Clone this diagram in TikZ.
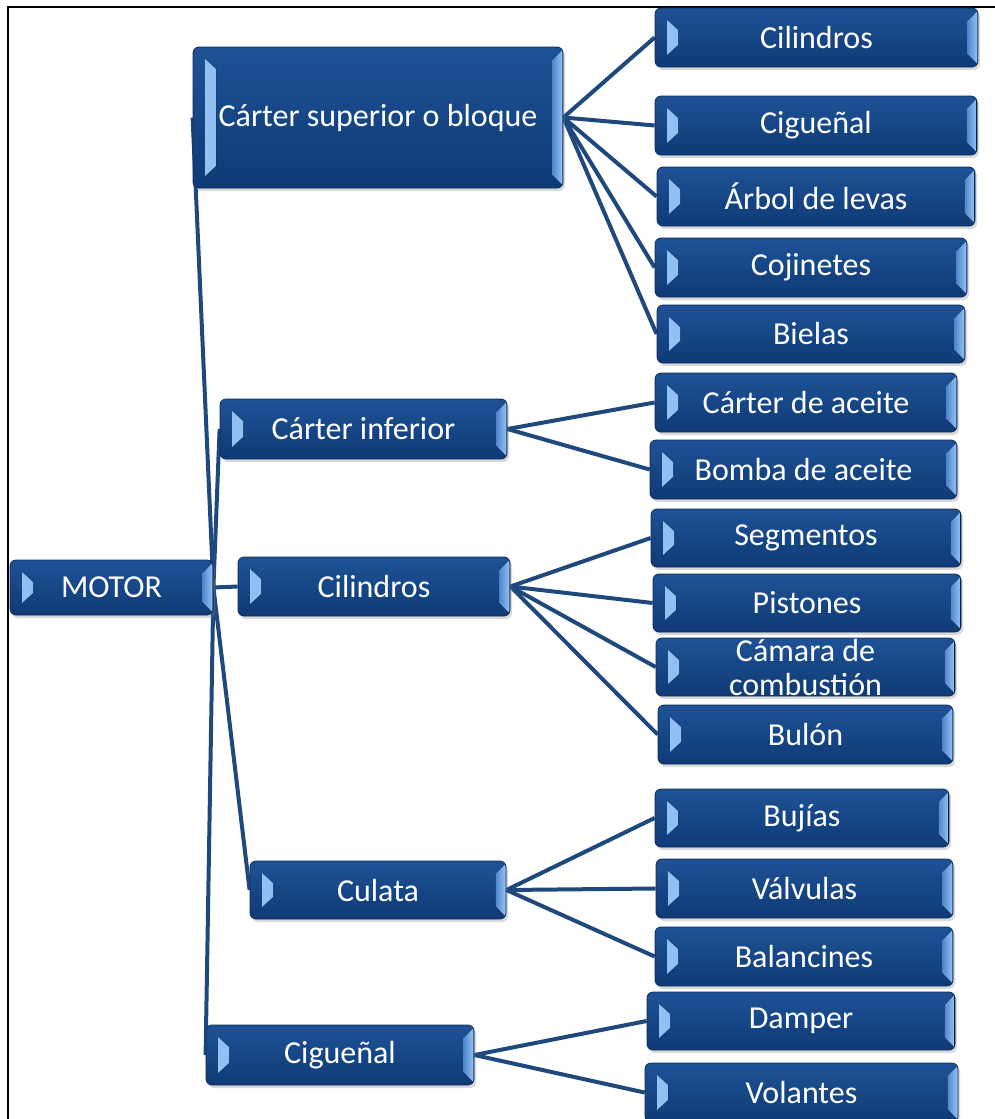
\documentclass[tikz,border=0pt]{standalone}
\usepackage{fontspec}
\setmainfont{Carlito}
\usetikzlibrary{calc,shadows,backgrounds}

\definecolor{tileTop}{RGB}{30,82,150}
\definecolor{tileBot}{RGB}{15,58,118}
\definecolor{tileEdge}{RGB}{12,44,92}
\definecolor{bevelLight}{RGB}{150,195,245}
\definecolor{bevelMid}{RGB}{80,135,205}
\definecolor{linkBlue}{RGB}{31,73,125}

\tikzset{
  tile/.style={
    rectangle, rounded corners=6pt, inner sep=0pt,
    top color=tileTop, bottom color=tileBot,
    draw=tileEdge, line width=0.8pt,
    text=white, font=\fontsize{32}{34}\selectfont, align=center,
    drop shadow={shadow xshift=2pt, shadow yshift=-3pt, opacity=0.3},
    path picture={
      % left bevel wedge
      \fill[sharp corners, left color=bevelLight, right color=bevelMid]
        ($(path picture bounding box.north west)+(12pt,-12pt)$) -- ++(11pt,-10pt)
        -- ($(path picture bounding box.south west)+(23pt,22pt)$) -- ++(-11pt,-10pt) -- cycle;
      % right bevel strip
      \fill[sharp corners, left color=bevelMid, right color=bevelLight]
        ($(path picture bounding box.north east)+(-0.5pt,-3pt)$) -- ++(-10pt,-10pt)
        -- ($(path picture bounding box.south east)+(-10.5pt,13pt)$) -- ++(10pt,-10pt) -- cycle;
    }},
  link/.style={draw=linkBlue, line width=4pt},
  frame/.style={draw=black, line width=2pt}
}

\newcommand{\tile}[6]{\node[tile, minimum width=#4pt, minimum height=#5pt] (#1) at (#2,#3) {#6};}

\begin{document}
\begin{tikzpicture}[x=1pt,y=-1pt]
\useasboundingbox (0,0) rectangle (995,1119);

% root
\tile{motor}{111.5}{587.5}{203}{55}{MOTOR}

% first level
\tile{sup}{378}{117.5}{370}{141}{Cárter superior o bloque}
\tile{inf}{363.5}{429}{287}{60}{Cárter inferior}
\tile{cil}{374}{586.5}{272}{59}{Cilindros}
\tile{cul}{378}{890}{256}{58}{Culata}
\tile{cig}{340}{1055}{268}{60}{Cigueñal}

% parts of the upper crankcase
\tile{a1}{816.5}{37.5}{323}{59}{Cilindros}
\tile{a2}{816}{125.5}{322}{59}{Cigueñal}
\tile{a3}{816}{196.5}{318}{59}{Árbol de levas}
\tile{a4}{811}{267.5}{312}{59}{Cojinetes}
\tile{a5}{811}{334}{308}{58}{Bielas}

% parts of the lower crankcase
\tile{b1}{806}{402.5}{302}{59}{Cárter de aceite}
\tile{b2}{803.5}{469.5}{307}{59}{Bomba de aceite}

% parts of the cylinders
\tile{c1}{806}{538}{310}{58}{Segmentos}
\tile{c2}{807}{603}{308}{58}{Pistones}
\tile{c3}{805.5}{667}{299}{58}{Cámara de\\combustión}
\tile{c4}{805.5}{734.5}{295}{59}{Bulón}

% parts of the cylinder head
\tile{d1}{802}{818}{294}{58}{Bujías}
\tile{d2}{804.5}{888.5}{297}{59}{Válvulas}
\tile{d3}{804}{956.5}{298}{59}{Balancines}

% parts of the crankshaft
\tile{e1}{801}{1021}{308}{58}{Damper}
\tile{e2}{801.5}{1092.5}{313}{59}{Volantes}

\begin{pgfonlayer}{background}
  % outer frame (left and top edges)
  \coordinate (fb) at (8,1119);
  \coordinate (fc) at (8,7);
  \coordinate (fr) at (995,7);
  \draw[frame] (fb) -- (fc) -- (fr);

  \foreach \n in {sup,inf,cil,cul,cig}
    \draw[link] (motor.east) -- (\n.west);
  \foreach \n in {a1,a2,a3,a4,a5}
    \draw[link] (sup.east) -- (\n.west);
  \foreach \n in {b1,b2}
    \draw[link] (inf.east) -- (\n.west);
  \foreach \n in {c1,c2,c3,c4}
    \draw[link] (cil.east) -- (\n.west);
  \foreach \n in {d1,d2,d3}
    \draw[link] (cul.east) -- (\n.west);
  \foreach \n in {e1,e2}
    \draw[link] (cig.east) -- (\n.west);
\end{pgfonlayer}
\end{tikzpicture}
\end{document}
